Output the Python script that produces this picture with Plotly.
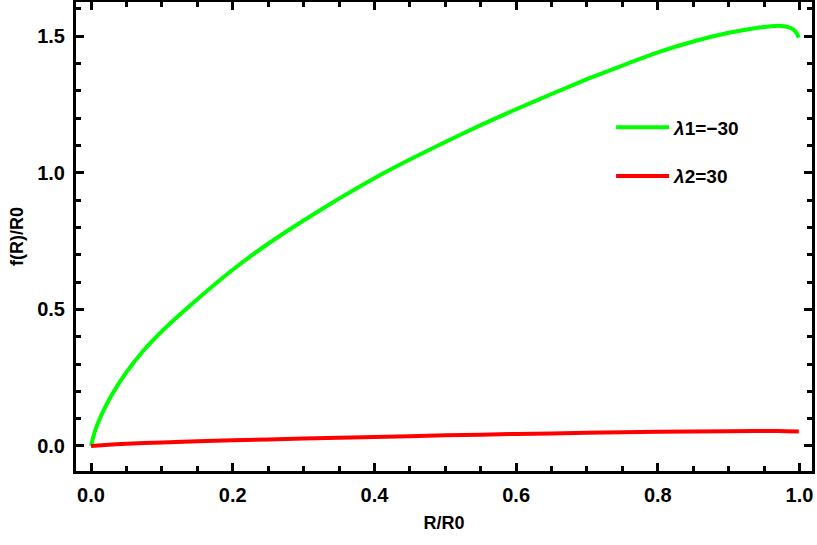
import plotly.graph_objects as go

# data
x_green = [0, 0.005, 0.01, 0.02, 0.03, 0.05, 0.075, 0.1, 0.15, 0.2, 0.25, 0.3, 0.35,
           0.4, 0.45, 0.5, 0.55, 0.6, 0.65, 0.7, 0.75, 0.8, 0.85, 0.9, 0.93, 0.96,
           0.975, 0.985, 0.992, 0.996, 0.999]
y_green = [0, 0.05, 0.085, 0.142, 0.19, 0.27, 0.352, 0.42, 0.537, 0.645, 0.74, 0.825, 0.905,
           0.98, 1.048, 1.112, 1.174, 1.232, 1.288, 1.342, 1.392, 1.44, 1.48, 1.512, 1.526, 1.536,
           1.537, 1.532, 1.522, 1.51, 1.494]

x_red = [0, 0.02, 0.05, 0.1, 0.2, 0.3, 0.4, 0.5, 0.6, 0.7, 0.8, 0.9, 0.97, 0.999]
y_red = [0, 0.004, 0.008, 0.013, 0.021, 0.027, 0.033, 0.039, 0.044, 0.048, 0.052, 0.054, 0.055, 0.053]

name_green = "<i>λ</i>1=−30"
name_red = "<i>λ</i>2=30"

FONT = "Liberation Sans, Arial, sans-serif"

fig = go.Figure()
fig.add_trace(go.Scatter(x=x_green, y=y_green, mode="lines", name=name_green,
                         line=dict(color="#00ff00", width=4, shape="spline", smoothing=0.5),
                         legendgroup="g1"))
fig.add_trace(go.Scatter(x=x_red, y=y_red, mode="lines", name=name_red,
                         line=dict(color="#ff0000", width=4, shape="spline", smoothing=0.5),
                         legendgroup="g2"))

axis_common = dict(
    showline=True, linecolor="black", linewidth=3, mirror="allticks",
    ticks="inside", ticklen=8, tickwidth=3, tickcolor="black",
    showgrid=False, zeroline=False, automargin=False,
    tickfont=dict(family=FONT, size=20, color="black", weight="bold"),
)

fig.update_xaxes(
    range=[-0.0212, 1.0176], tickvals=[0, 0.2, 0.4, 0.6, 0.8, 1.0], tickformat=".1f",
    minor=dict(dtick=0.05, tick0=0, ticks="inside", ticklen=5, tickwidth=3, tickcolor="black"),
    title=dict(text="<b>R/R0</b>", font=dict(family=FONT, size=18, color="black"), standoff=12),
    ticklabelstandoff=4,
    **axis_common,
)
fig.update_yaxes(
    range=[-0.0915, 1.6245], tickvals=[0, 0.5, 1.0, 1.5], tickformat=".1f",
    minor=dict(dtick=0.1, tick0=0, ticks="inside", ticklen=5, tickwidth=3, tickcolor="black"),
    title=dict(text="<b>f(R)/R0</b>", font=dict(family=FONT, size=18, color="black"), standoff=9),
    ticklabelstandoff=4,
    **axis_common,
)

fig.update_layout(
    width=817, height=545,
    margin=dict(l=76, r=5, t=2, b=74),
    paper_bgcolor="white", plot_bgcolor="white",
    showlegend=True,
    legend=dict(x=0.727, y=0.773, xanchor="left", yanchor="top",
                bgcolor="rgba(0,0,0,0)", tracegroupgap=21, itemwidth=53,
                font=dict(family=FONT, size=19, color="black", weight="bold")),
)

# drop the browser's default body margin so the figure sits at the page corner
fig.write_html("out.html", config={"displayModeBar": False},
               post_script="document.body.style.margin='0';")
